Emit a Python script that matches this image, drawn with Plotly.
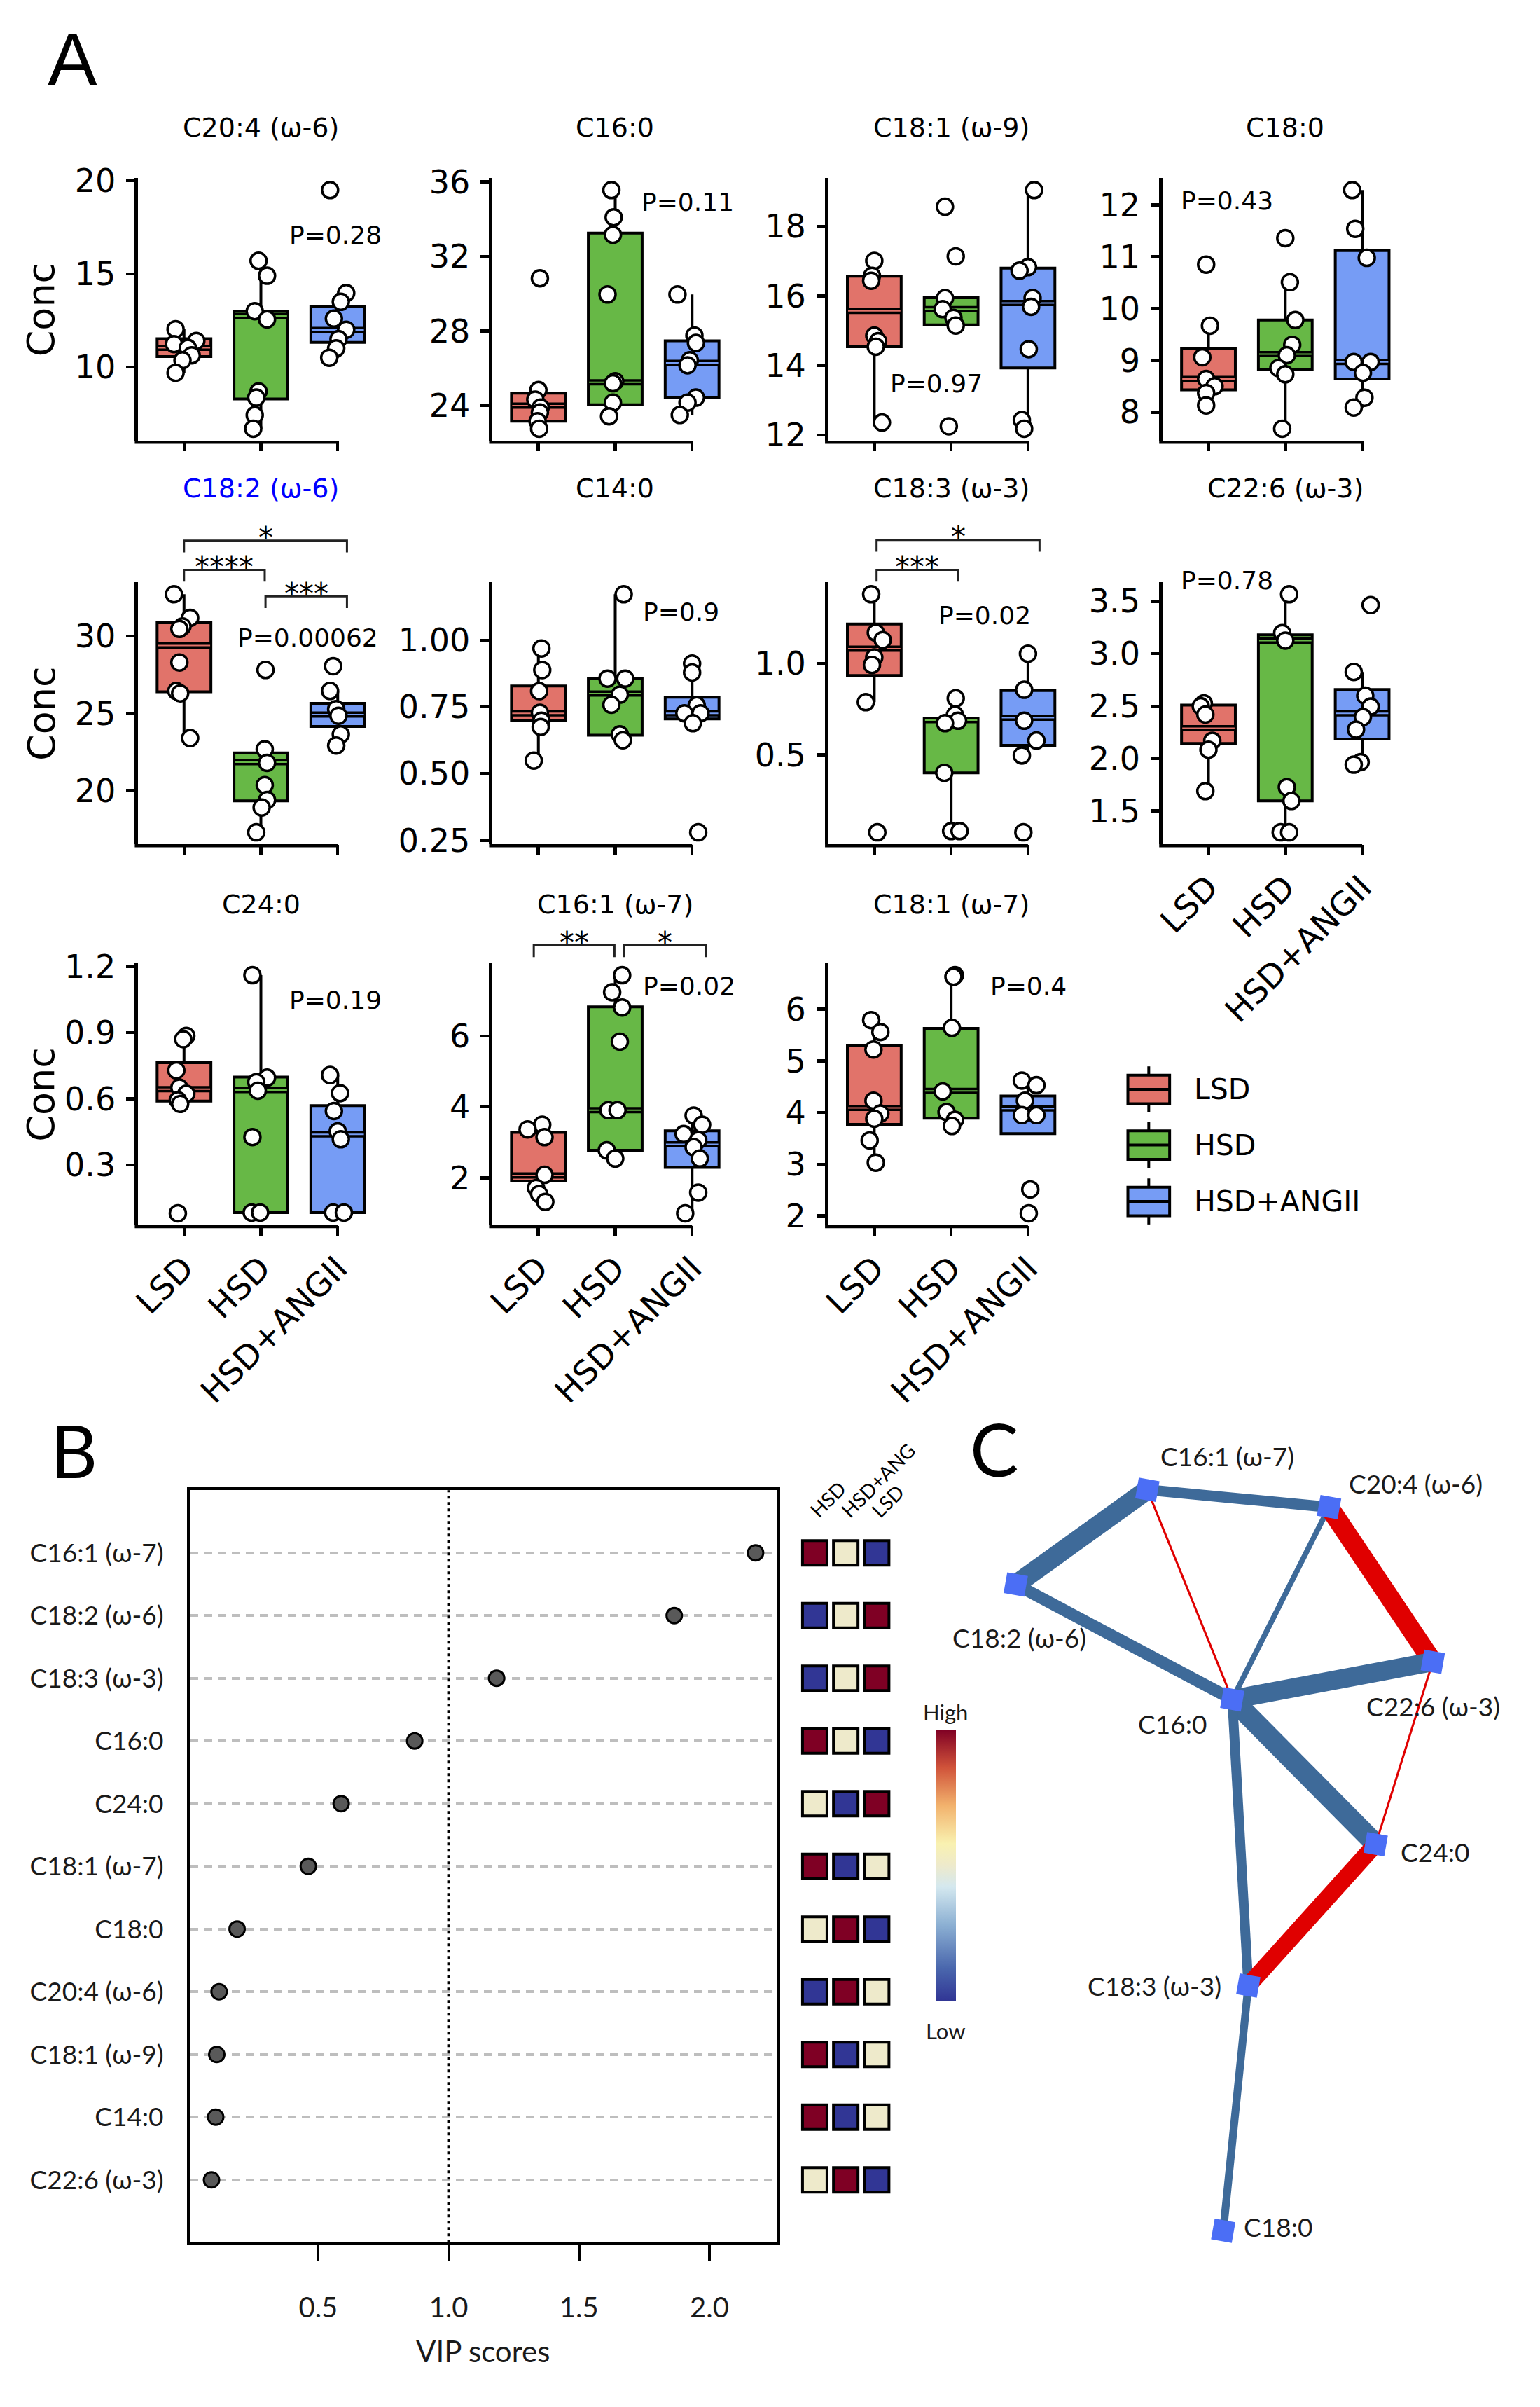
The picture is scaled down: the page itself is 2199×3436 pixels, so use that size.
import plotly.graph_objects as go

W, H = 2199, 3436
X_OFF, Y_SCALE, Y_OFF = 8, 1.007, 15


def fx(px):
    return (px - X_OFF) / W


def fy(py):
    return 1 - (Y_SCALE * py - Y_OFF) / H


FA = "DejaVu Sans, Liberation Sans, sans-serif"
FB = "Lato, Carlito, Noto Sans, sans-serif"
FL = "Liberation Sans, Arial, sans-serif"

GROUPS = ["LSD", "HSD", "HSD+ANGII"]
GROUP_COLORS = ["#E1736A", "#67B846", "#769CF5"]

# ---------------- Panel A data ----------------
c204_pts = [[12.03, 11.4, 11.23, 11.03, 10.63, 10.36, 9.69],
            [15.7, 14.9, 13.0, 12.56, 8.69, 8.36, 7.42, 6.69],
            [19.5, 13.97, 13.5, 12.6, 12.0, 11.5, 11.0, 10.5]]
c204_jit = [[-0.11, 0.16, -0.13, 0.05, 0.1, -0.02, -0.11],
            [-0.03, 0.08, -0.08, 0.08, -0.03, -0.06, -0.08, -0.1],
            [-0.1, 0.11, 0.04, -0.05, 0.11, 0.01, -0.02, -0.11]]
c204_box = [[10.56, 11.03, 11.52], [8.29, 12.74, 13.0], [11.32, 11.99, 13.26]]
c204_whisk = [[9.69, 12.03], [6.69, 15.7], [10.5, 13.97]]

c160_pts = [[30.83, 24.83, 24.32, 23.9, 23.63, 23.16, 22.76],
            [35.56, 34.1, 33.16, 29.96, 25.3, 25.2, 24.16, 23.43],
            [29.96, 27.76, 27.36, 26.43, 26.16, 24.43, 24.16, 23.5]]
c160_jit = [[0.02, 0.0, -0.04, 0.03, 0.02, -0.01, 0.01],
            [-0.05, -0.02, -0.03, -0.1, 0.0, -0.03, -0.03, -0.08],
            [-0.19, 0.03, 0.05, -0.03, -0.06, 0.05, -0.06, -0.16]]
c160_box = [[23.16, 24.0, 24.67], [24.05, 25.25, 33.25], [24.43, 26.29, 27.47]]
c160_whisk = [[22.76, 24.83], [23.43, 35.56], [23.5, 29.96]]

c181n9_pts = [[17.01, 16.58, 16.44, 14.86, 14.7, 14.54, 12.36],
              [18.57, 17.14, 15.94, 15.62, 15.37, 15.15, 12.25],
              [19.05, 16.83, 16.73, 15.94, 15.69, 14.47, 12.43, 12.18]]
c181n9_jit = [[0.0, -0.03, -0.04, 0.0, 0.05, 0.02, 0.1],
              [-0.08, 0.06, -0.08, -0.11, 0.03, 0.06, -0.03],
              [0.08, 0.0, -0.11, 0.06, 0.04, 0.01, -0.08, -0.05]]
c181n9_box = [[14.54, 15.57, 16.57], [15.17, 15.62, 15.95], [13.93, 15.8, 16.8]]
c181n9_whisk = [[12.36, 17.01], [15.17, 15.95], [12.18, 19.05]]

c180_pts = [[10.85, 9.67, 9.06, 8.64, 8.5, 8.37, 8.13],
            [11.36, 10.51, 9.78, 9.3, 9.1, 8.85, 8.73, 7.68],
            [12.29, 11.54, 10.98, 8.97, 8.97, 8.76, 8.28, 8.09]]
c180_jit = [[-0.03, 0.02, -0.08, -0.03, 0.08, -0.03, -0.03],
            [0.0, 0.06, 0.13, 0.09, 0.02, -0.09, 0.0, -0.04],
            [-0.13, -0.09, 0.06, -0.11, 0.11, 0.01, 0.03, -0.11]]
c180_box = [[8.43, 8.64, 9.23], [8.83, 9.12, 9.78], [8.64, 8.97, 11.12]]
c180_whisk = [[8.13, 9.67], [7.68, 10.51], [8.09, 12.29]]

c182_pts = [[32.69, 31.17, 30.61, 30.45, 28.29, 26.45, 26.3, 23.41],
            [27.81, 22.69, 21.81, 20.37, 19.41, 18.93, 17.33],
            [28.05, 26.45, 25.28, 24.85, 23.65, 22.93]]
c182_jit = [[-0.13, 0.08, -0.02, -0.06, -0.06, -0.1, -0.05, 0.08],
            [0.06, 0.05, 0.08, 0.05, 0.08, 0.01, -0.06],
            [-0.06, -0.1, -0.02, 0.01, 0.04, -0.02]]
c182_box = [[26.4, 29.38, 30.85], [19.36, 21.86, 22.45], [24.16, 24.93, 25.65]]
c182_whisk = [[23.41, 32.69], [17.33, 22.69], [22.93, 26.45]]

c140_pts = [[0.969, 0.888, 0.809, 0.728, 0.698, 0.675, 0.549],
            [1.172, 0.856, 0.856, 0.796, 0.758, 0.647, 0.625],
            [0.912, 0.879, 0.756, 0.726, 0.726, 0.689, 0.28]]
c140_jit = [[0.04, 0.05, 0.01, 0.02, 0.04, 0.03, -0.06],
            [0.11, -0.1, 0.13, 0.06, -0.05, 0.06, 0.1],
            [0.0, 0.0, 0.06, -0.1, 0.11, 0.01, 0.08]]
c140_box = [[0.70, 0.726, 0.828], [0.644, 0.80, 0.858], [0.705, 0.726, 0.786]]
c140_whisk = [[0.549, 0.969], [0.625, 1.172], [0.689, 0.912]]

c183_pts = [[1.38, 1.17, 1.129, 1.034, 0.993, 0.789, 0.076],
            [0.81, 0.72, 0.6875, 0.674, 0.402, 0.083, 0.083],
            [1.054, 0.857, 0.6875, 0.579, 0.497, 0.076]]
c183_jit = [[-0.04, 0.02, 0.11, 0.0, -0.03, -0.11, 0.04],
            [0.06, 0.05, 0.09, -0.08, -0.09, 0.0, 0.11],
            [0.0, -0.05, -0.05, 0.11, -0.08, -0.06]]
c183_box = [[0.935, 1.082, 1.217], [0.402, 0.69, 0.698], [0.552, 0.704, 0.853]]
c183_whisk = [[0.789, 1.38], [0.083, 0.81], [0.497, 1.054]]

c226_pts = [[2.527, 2.50, 2.42, 2.17, 2.085, 1.69],
            [3.567, 3.197, 3.125, 1.727, 1.596, 1.297, 1.297],
            [3.464, 2.826, 2.6, 2.496, 2.396, 2.277, 1.966, 1.942]]
c226_jit = [[-0.06, -0.1, -0.04, 0.05, 0.0, -0.04],
            [0.05, -0.04, 0.0, 0.02, 0.08, -0.06, 0.05],
            [0.11, -0.11, 0.04, 0.11, 0.01, -0.08, -0.02, -0.11]]
c226_box = [[2.145, 2.29, 2.51], [1.596, 3.125, 3.18], [2.186, 2.432, 2.659]]
c226_whisk = [[1.69, 2.527], [1.297, 3.567], [1.942, 2.826]]

c240_pts = [[0.885, 0.87, 0.729, 0.651, 0.623, 0.594, 0.577, 0.082],
            [1.16, 0.696, 0.676, 0.637, 0.427, 0.085, 0.085],
            [0.708, 0.626, 0.545, 0.453, 0.417, 0.085, 0.085]]
c240_jit = [[0.03, -0.01, -0.1, -0.06, 0.03, -0.08, -0.05, -0.08],
            [-0.11, 0.08, -0.06, -0.04, -0.11, -0.12, -0.01],
            [-0.1, 0.03, -0.05, 0.0, 0.04, -0.06, 0.08]]
c240_box = [[0.59, 0.644, 0.764], [0.085, 0.64, 0.699], [0.085, 0.439, 0.569]]
c240_whisk = [[0.577, 0.885], [0.085, 1.16], [0.085, 0.708]]

c161_pts = [[3.5, 3.37, 3.15, 2.09, 1.72, 1.55, 1.33],
            [7.71, 7.23, 6.8, 5.84, 3.91, 3.91, 2.78, 2.55],
            [3.76, 3.5, 3.24, 3.07, 2.87, 2.55, 1.59, 1.01]]
c161_jit = [[0.05, -0.14, 0.08, 0.08, -0.03, 0.01, 0.09],
            [0.09, -0.04, 0.09, 0.06, -0.09, 0.03, -0.11, 0.0],
            [0.02, 0.13, -0.11, 0.08, 0.02, 0.1, 0.08, -0.09]]
c161_box = [[1.913, 2.07, 3.284], [2.78, 3.91, 6.82], [2.30, 2.95, 3.33]]
c161_whisk = [[1.33, 3.5], [2.55, 7.71], [1.01, 3.76]]

c181n7_pts = [[5.79, 5.56, 5.22, 4.23, 3.98, 3.88, 3.46, 3.03],
              [6.66, 6.63, 5.64, 4.41, 4.01, 3.86, 3.74],
              [4.62, 4.53, 4.23, 3.95, 3.95, 2.51, 2.05]]
c181n7_jit = [[-0.04, 0.08, -0.01, -0.01, 0.08, 0.0, -0.06, 0.02],
              [0.05, 0.03, 0.01, -0.11, -0.06, 0.05, 0.01],
              [-0.08, 0.11, -0.04, -0.08, 0.11, 0.03, 0.01]]
c181n7_box = [[3.77, 4.09, 5.30], [3.89, 4.42, 5.63], [3.59, 4.08, 4.32]]
c181n7_whisk = [[3.03, 5.79], [3.74, 6.66], [3.59, 4.62]]

PANELS = [
    dict(title="C20:4 (ω-6)", pts=c204_pts, jit=c204_jit, box=c204_box, whisk=c204_whisk,
         ticks=[10, 15, 20], labels=["10", "15", "20"], p="P=0.28", p_at=(2.97, 17.1)),
    dict(title="C16:0", pts=c160_pts, jit=c160_jit, box=c160_box, whisk=c160_whisk,
         ticks=[24, 28, 32, 36], labels=["24", "28", "32", "36"], p="P=0.11", p_at=(2.94, 34.93)),
    dict(title="C18:1 (ω-9)", pts=c181n9_pts, jit=c181n9_jit, box=c181n9_box, whisk=c181n9_whisk,
         ticks=[12, 14, 16, 18], labels=["12", "14", "16", "18"], p="P=0.97", p_at=(1.81, 13.47)),
    dict(title="C18:0", pts=c180_pts, jit=c180_jit, box=c180_box, whisk=c180_whisk,
         ticks=[8, 9, 10, 11, 12], labels=["8", "9", "10", "11", "12"], p="P=0.43", p_at=(1.24, 12.09)),
    dict(title="C18:2 (ω-6)", pts=c182_pts, jit=c182_jit, box=c182_box, whisk=c182_whisk,
         ticks=[20, 25, 30], labels=["20", "25", "30"], p="P=0.00062", p_at=(2.61, 29.89),
         color="#0000FF",
         brackets=[(1.0, 3.12, 60, "*"), (1.0, 2.05, 18, "****"), (2.06, 3.12, -20, "***")]),
    dict(title="C14:0", pts=c140_pts, jit=c140_jit, box=c140_box, whisk=c140_whisk,
         ticks=[0.25, 0.5, 0.75, 1.0], labels=["0.25", "0.50", "0.75", "1.00"], p="P=0.9",
         p_at=(2.86, 1.105)),
    dict(title="C18:3 (ω-3)", pts=c183_pts, jit=c183_jit, box=c183_box, whisk=c183_whisk,
         ticks=[0.5, 1.0], labels=["0.5", "1.0"], p="P=0.02", p_at=(2.44, 1.265),
         brackets=[(1.03, 3.15, 61, "*"), (1.03, 2.09, 18, "***")]),
    dict(title="C22:6 (ω-3)", pts=c226_pts, jit=c226_jit, box=c226_box, whisk=c226_whisk,
         ticks=[1.5, 2.0, 2.5, 3.0, 3.5], labels=["1.5", "2.0", "2.5", "3.0", "3.5"], p="P=0.78",
         p_at=(1.24, 3.70)),
    dict(title="C24:0", pts=c240_pts, jit=c240_jit, box=c240_box, whisk=c240_whisk,
         ticks=[0.3, 0.6, 0.9, 1.2], labels=["0.3", "0.6", "0.9", "1.2"], p="P=0.19",
         p_at=(2.97, 1.047)),
    dict(title="C16:1 (ω-7)", pts=c161_pts, jit=c161_jit, box=c161_box, whisk=c161_whisk,
         ticks=[2, 4, 6], labels=["2", "4", "6"], p="P=0.02", p_at=(2.96, 7.41),
         brackets=[(0.94, 1.99, 26, "**"), (2.11, 3.18, 26, "*")]),
    dict(title="C18:1 (ω-7)", pts=c181n7_pts, jit=c181n7_jit, box=c181n7_box, whisk=c181n7_whisk,
         ticks=[2, 3, 4, 5, 6], labels=["2", "3", "4", "5", "6"], p="P=0.4", p_at=(3.01, 6.45)),
]

# ---------------- Panel B data ----------------
vip_names = ["C16:1 (ω-7)", "C18:2 (ω-6)", "C18:3 (ω-3)", "C16:0", "C24:0", "C18:1 (ω-7)",
             "C18:0", "C20:4 (ω-6)", "C18:1 (ω-9)", "C14:0", "C22:6 (ω-3)"]
vip_scores = [2.177, 1.865, 1.184, 0.87, 0.588, 0.462, 0.189, 0.12, 0.111, 0.107, 0.091]
vip_ticks = [0.5, 1.0, 1.5, 2.0]
vip_ticktext = ["0.5", "1.0", "1.5", "2.0"]

hm_cols = ["HSD", "HSD+ANG", "LSD"]
hm_levels = [[1, 0, -1], [-1, 0, 1], [-1, 0, 1], [1, 0, -1], [0, -1, 1], [1, -1, 0],
             [0, 1, -1], [-1, 1, 0], [1, -1, 0], [1, -1, 0], [0, 1, -1]]

# ---------------- Panel C data ----------------
net_nodes = ["C16:1 (ω-7)", "C20:4 (ω-6)", "C18:2 (ω-6)", "C22:6 (ω-3)", "C16:0", "C24:0",
             "C18:3 (ω-3)", "C18:0"]
net_x = [1643, 1904, 1454, 2053, 1765, 1971, 1788, 1752]
net_y = [2131, 2156, 2267, 2378, 2432, 2640, 2843, 3195]
net_label_x = [1758, 2028, 1459, 2054, 1679, 2056, 1653, 1831]
net_label_y = [2083, 2122, 2343, 2442, 2467, 2651, 2843, 3189]
edge_src = ["C16:1 (ω-7)", "C16:1 (ω-7)", "C16:1 (ω-7)", "C20:4 (ω-6)", "C20:4 (ω-6)",
            "C18:2 (ω-6)", "C16:0", "C16:0", "C16:0", "C22:6 (ω-3)", "C24:0", "C18:3 (ω-3)"]
edge_dst = ["C18:2 (ω-6)", "C20:4 (ω-6)", "C16:0", "C16:0", "C22:6 (ω-3)",
            "C16:0", "C22:6 (ω-3)", "C24:0", "C18:3 (ω-3)", "C24:0", "C18:3 (ω-3)", "C18:0"]
edge_r = [0.9, 0.5, -0.1, 0.25, -0.9, 0.55, 0.88, 0.95, 0.45, -0.1, -0.78, 0.36]

# ---------------- layout constants ----------------
COL_LEFT = [193, 702, 1184.5, 1664.5]
CAT_PX = 110.4
ROWS = [(247.5, 624.5), (828, 1204), (1375, 1751)]
TITLE_Y = [175, 693, 1290]
POS = [(0, 0), (0, 1), (0, 2), (0, 3), (1, 0), (1, 1), (1, 2), (1, 3), (2, 0), (2, 1), (2, 2)]
LABELLED = {7, 8, 9, 10}

fig = go.Figure()
shapes = []
annots = []
axes = {}


def txt(x, y, text, size, family=FA, color="black", xanchor="center", yanchor="middle",
        angle=0, xref="paper", yref="paper"):
    return dict(x=x, y=y, xref=xref, yref=yref, text=text, showarrow=False,
                xanchor=xanchor, yanchor=yanchor, textangle=angle,
                font=dict(family=family, size=size, color=color))


for i, p in enumerate(PANELS):
    k = i + 1
    sx = "" if k == 1 else str(k)
    xa, ya = "x" + sx, "y" + sx
    row, col = POS[i]
    top, bot = ROWS[row]
    left = COL_LEFT[col]
    right = left + 3.2 * CAT_PX
    vals = [v for g in p["pts"] for v in g] + [v for w in p["whisk"] for v in w]
    vmin, vmax = min(vals), max(vals)
    pad = 0.05 * (vmax - vmin)
    lo, hi = vmin - pad, vmax + pad

    def to_px(xv, yv, left=left, top=top, bot=bot, lo=lo, hi=hi):
        return left + (xv - 0.4) * CAT_PX, bot - (yv - lo) / (hi - lo) * (bot - top)

    for g in range(3):
        q1, med, q3 = p["box"][g]
        wl, wh = p["whisk"][g]
        fig.add_trace(go.Box(x=[g + 1], q1=[q1], median=[med], q3=[q3],
                             lowerfence=[wl], upperfence=[wh], orientation="v",
                             width=0.7, whiskerwidth=0, boxpoints=False,
                             fillcolor=GROUP_COLORS[g], line=dict(color="black", width=4),
                             xaxis=xa, yaxis=ya, hoverinfo="skip", showlegend=False))
        fig.add_trace(go.Scatter(x=[g + 0.65, g + 1.35], y=[med, med], mode="lines",
                                 line=dict(color="black", width=9), xaxis=xa, yaxis=ya,
                                 hoverinfo="skip", showlegend=False))
        fig.add_trace(go.Scatter(x=[g + 0.66, g + 1.34], y=[med, med], mode="lines",
                                 line=dict(color=GROUP_COLORS[g], width=2), xaxis=xa, yaxis=ya,
                                 hoverinfo="skip", showlegend=False))
        fig.add_trace(go.Scatter(x=[g + 1 + d for d in p["jit"][g]], y=p["pts"][g],
                                 mode="markers", cliponaxis=False,
                                 marker=dict(size=23, color="white",
                                             line=dict(color="black", width=3.5)),
                                 xaxis=xa, yaxis=ya, hoverinfo="skip", showlegend=False))
    axes["xaxis" + sx] = dict(domain=[fx(left), fx(right)], range=[0.4, 3.6], anchor=ya,
                              tickmode="array", tickvals=[1, 2, 3], ticktext=GROUPS,
                              showticklabels=(i in LABELLED), ticks="outside", ticklen=14,
                              tickwidth=4.5, tickcolor="black", showline=False, showgrid=False,
                              zeroline=False, tickangle=-45,
                              tickfont=dict(family=FA, size=47, color="black"), fixedrange=True)
    axes["yaxis" + sx] = dict(domain=[fy(bot), fy(top)], range=[lo, hi], anchor=xa,
                              tickmode="array", tickvals=p["ticks"], ticktext=p["labels"],
                              ticks="outside", ticklen=12, tickwidth=4.5, tickcolor="black",
                              showline=True, linewidth=4.5, linecolor="black", showgrid=False,
                              zeroline=False, tickfont=dict(family=FA, size=46, color="black"),
                              ticklabelstandoff=6, fixedrange=True)
    shapes.append(dict(type="line", xref="paper", yref="paper",
                       x0=fx(left - 4.5), x1=fx(left + 2.6 * CAT_PX),
                       y0=fy(bot + 2.2), y1=fy(bot + 2.2),
                       line=dict(color="black", width=4.5)))
    annots.append(txt(x=2, xref=xa, y=fy(TITLE_Y[row]), text=p["title"], size=38,
                      color=p.get("color", "black")))
    px_, py_ = to_px(*p["p_at"])
    annots.append(txt(fx(px_), fy(py_), p["p"], 36))
    for (b1, b2, off, lab) in p.get("brackets", []):
        yl = top - off
        X1 = to_px(b1, lo)[0]
        X2 = to_px(b2, lo)[0]
        path = "M {a},{b} L {a},{c} L {d},{c} L {d},{b}".format(
            a=fx(X1), b=fy(yl + 17), c=fy(yl), d=fx(X2))
        shapes.append(dict(type="path", xref="paper", yref="paper", path=path,
                           line=dict(color="#222222", width=3)))
        annots.append(txt(fx((X1 + X2) / 2), fy(yl - 4), lab, 42))

# "Conc" y titles
for (top, bot) in ROWS:
    annots.append(txt(fx(54), fy((top + bot) / 2), "Conc", 54, angle=-90))

# legend for panel A
for g, yc in enumerate([1556, 1636, 1717]):
    shapes.append(dict(type="line", xref="paper", yref="paper", x0=fx(1645), x1=fx(1645),
                       y0=fy(yc - 33), y1=fy(yc + 33), line=dict(color="black", width=4)))
    shapes.append(dict(type="rect", xref="paper", yref="paper", x0=fx(1615), x1=fx(1675),
                       y0=fy(yc + 20.5), y1=fy(yc - 20.5), fillcolor=GROUP_COLORS[g],
                       line=dict(color="black", width=4)))
    shapes.append(dict(type="line", xref="paper", yref="paper", x0=fx(1615), x1=fx(1675),
                       y0=fy(yc), y1=fy(yc), line=dict(color="black", width=4)))
    annots.append(txt(fx(1708), fy(yc), GROUPS[g], 41, xanchor="left"))

# ---------------- Panel B ----------------
n = len(vip_names)
rows_idx = list(range(1, n + 1))
vmin, vmax = min(vip_scores), max(vip_scores)
vpad = 0.04 * (vmax - vmin)
B_TOP, B_BOT, B_LEFT, B_RIGHT = 2131.5, 3212, 267.5, 1111.5

fig.add_trace(go.Scatter(x=vip_scores, y=rows_idx, mode="markers", cliponaxis=False,
                         marker=dict(size=22, color="#595959", line=dict(color="black", width=3)),
                         xaxis="x12", yaxis="y12", hoverinfo="skip", showlegend=False))
axes["xaxis12"] = dict(domain=[fx(B_LEFT), fx(B_RIGHT)], range=[vmin - vpad, vmax + vpad],
                       anchor="y12", showline=True, mirror=True, linewidth=4, linecolor="black",
                       ticks="outside", ticklen=23, tickwidth=4, tickcolor="black",
                       tickmode="array", tickvals=vip_ticks, ticktext=vip_ticktext,
                       tickfont=dict(family=FB, size=40, color="#1a1a1a"), showgrid=False,
                       zeroline=False, ticklabelstandoff=32, fixedrange=True)
axes["yaxis12"] = dict(domain=[fy(B_BOT), fy(B_TOP)], range=[n + 1, 0], anchor="x12",
                       showline=True, mirror=True, linewidth=4, linecolor="black", ticks="",
                       tickmode="array", tickvals=rows_idx, ticktext=vip_names,
                       tickfont=dict(family=FB, size=37, color="#1a1a1a"), showgrid=True,
                       gridcolor="#BEBEBE", gridwidth=4, griddash="12px,8px", zeroline=False,
                       ticklabelstandoff=26, fixedrange=True)
shapes.append(dict(type="line", xref="x12", yref="y12 domain", x0=1, x1=1, y0=0, y1=1,
                   line=dict(color="black", width=4, dash="4px,5px")))
annots.append(txt(fx(689), fy(3368), "VIP scores", 42, family=FB, color="#1a1a1a"))

# heat-map squares next to the VIP plot
CSCALE = [[0.0, "#313695"], [0.12, "#4a67ad"], [0.28, "#8cb0d3"], [0.42, "#d4e8ef"],
          [0.5, "#EEEACB"], [0.58, "#f9f1b0"], [0.72, "#f2b26d"], [0.86, "#d0533a"],
          [1.0, "#7f0024"]]
hx, hy, hz = [], [], []
for r, levels in enumerate(hm_levels):
    for c, v in enumerate(levels):
        hx.append(c + 1)
        hy.append(r + 1)
        hz.append(v)
CB_TOP, CB_BOT = 2476, 2865
fig.add_trace(go.Scatter(x=hx, y=hy, mode="markers", cliponaxis=False,
                         marker=dict(symbol="square", size=35, color=hz, colorscale=CSCALE,
                                     cmin=-1, cmax=1, line=dict(color="black", width=4),
                                     showscale=True,
                                     colorbar=dict(x=fx(1339), xanchor="left",
                                                   y=fy((CB_TOP + CB_BOT) / 2), yanchor="middle",
                                                   len=Y_SCALE * (CB_BOT - CB_TOP) / H,
                                                   lenmode="fraction",
                                                   thickness=29, thicknessmode="pixels",
                                                   outlinewidth=0, showticklabels=False,
                                                   ticks="", xpad=0, ypad=0)),
                         xaxis="x13", yaxis="y13", hoverinfo="skip", showlegend=False))
axes["xaxis13"] = dict(domain=[fx(1143), fx(1276.5)], range=[0.5, 3.5], anchor="y13",
                       visible=False, fixedrange=True)
axes["yaxis13"] = dict(domain=[fy(B_BOT), fy(B_TOP)], range=[n + 1, 0], anchor="x13",
                       visible=False, fixedrange=True)
for c, name in enumerate(hm_cols):
    a = txt(c + 1, fy(2180), name, 28, family=FB, xanchor="left", yanchor="bottom", angle=-45,
            xref="x13")
    a["xshift"] = -17
    annots.append(a)
annots.append(txt(fx(1353), fy(2450), "High", 31, family=FB, color="#1a1a1a"))
annots.append(txt(fx(1353), fy(2908), "Low", 31, family=FB, color="#1a1a1a"))

# ---------------- Panel C: network ----------------
node_pos = {nm: (x, y) for nm, x, y in zip(net_nodes, net_x, net_y)}
for s, d, r in zip(edge_src, edge_dst, edge_r):
    (x0, y0), (x1, y1) = node_pos[s], node_pos[d]
    fig.add_trace(go.Scatter(x=[x0, x1], y=[y0, y1], mode="lines",
                             line=dict(color="#3E6A99" if r > 0 else "#E00000",
                                       width=31 * abs(r)),
                             xaxis="x14", yaxis="y14", hoverinfo="skip", showlegend=False))
fig.add_trace(go.Scatter(x=net_x, y=net_y, mode="markers", cliponaxis=False,
                         marker=dict(symbol="square", size=30, color="#4B6EF5", angle=10,
                                     line=dict(width=0)),
                         xaxis="x14", yaxis="y14", hoverinfo="skip", showlegend=False))
for nm, lx, ly in zip(net_nodes, net_label_x, net_label_y):
    annots.append(txt(lx, ly, nm, 37, family=FB, color="#1a1a1a", xref="x14", yref="y14"))
axes["xaxis14"] = dict(domain=[fx(1380), fx(W)], range=[1380, W], anchor="y14",
                       visible=False, fixedrange=True)
axes["yaxis14"] = dict(domain=[fy(3263), fy(2033)], range=[3263, 2033], anchor="x14",
                       visible=False, fixedrange=True)

# panel letters
annots.append(txt(fx(99), fy(76), "A", 106, family=FL))
annots.append(txt(fx(101), fy(2074), "B", 104, family=FB))
annots.append(txt(fx(1423), fy(2072), "C", 104, family=FB))

fig.update_layout(width=W, height=H, margin=dict(l=0, r=0, t=0, b=0),
                  paper_bgcolor="white", plot_bgcolor="rgba(0,0,0,0)",
                  showlegend=False, boxmode="overlay", shapes=shapes, annotations=annots,
                  font=dict(family=FA, color="black"), **axes)

fig.write_html("out.html", config={"displayModeBar": False, "staticPlot": True},
               post_script="document.body.style.margin='0';document.body.style.overflow='hidden';")
